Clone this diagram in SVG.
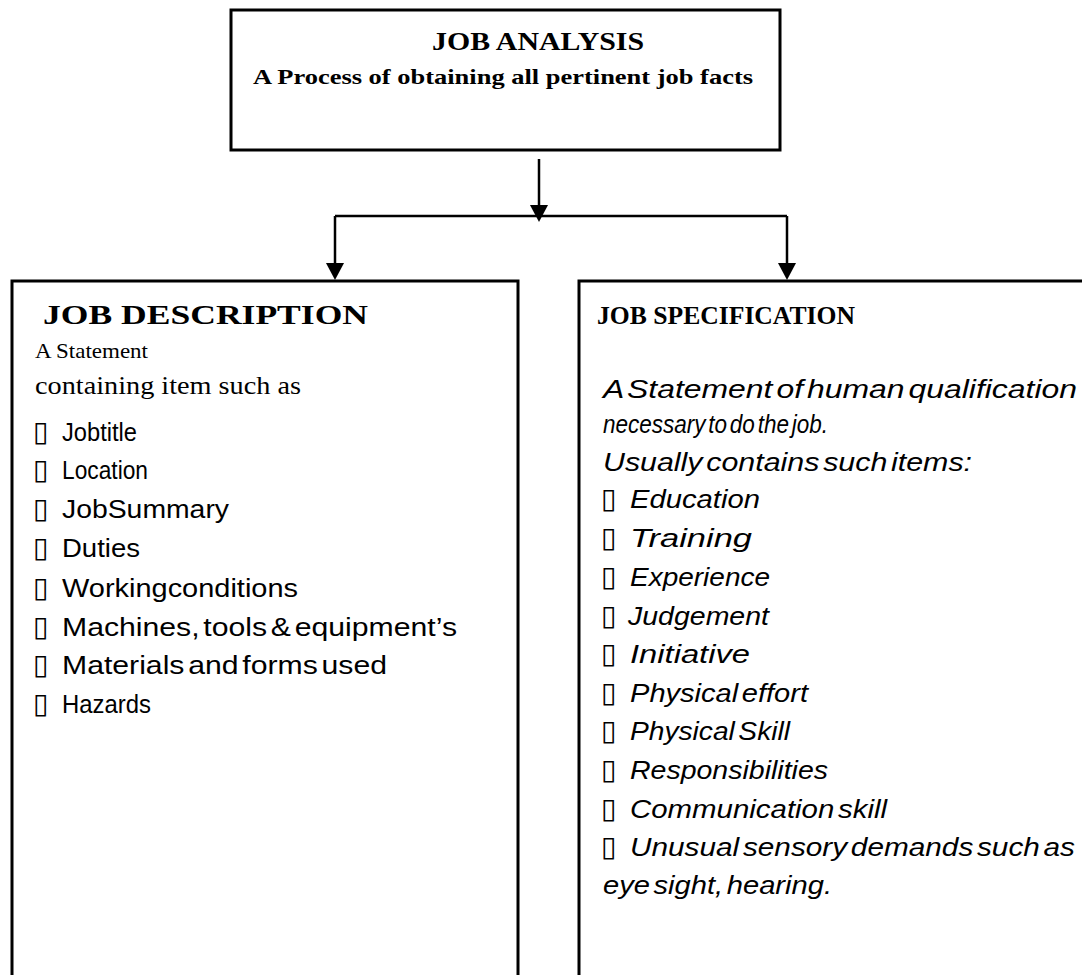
<svg xmlns="http://www.w3.org/2000/svg" width="1082" height="975" viewBox="0 0 1082 975">
  <defs>
    <style>
      .box { fill: #fff; stroke: #000; stroke-width: 3; }
      .wire { fill: none; stroke: #000; stroke-width: 2.5; }
      .head { fill: #000; }
      .serifb { font-family: "Liberation Serif", "DejaVu Serif", serif; font-weight: bold; fill: #000; }
      .serif { font-family: "Liberation Serif", "DejaVu Serif", serif; fill: #000; }
      .item { font-family: "Liberation Sans", "DejaVu Sans", sans-serif; font-size: 26px; word-spacing: -4px; fill: #000; }
      .itemi { font-family: "Liberation Sans", "DejaVu Sans", sans-serif; font-size: 26px; font-style: italic; word-spacing: -4px; fill: #000; }
      .mark { font-family: "DejaVu Sans", sans-serif; font-size: 28px; fill: #000; }
      .marki { font-family: "DejaVu Sans", sans-serif; font-size: 28px; font-style: italic; fill: #000; }
    </style>
  </defs>
  <rect width="1082" height="975" fill="#fff"/>

  <!-- Top node: job analysis -->
  <g id="job-analysis">
    <rect class="box" x="231" y="10" width="549" height="140"/>
    <text class="serifb" x="538" y="50" font-size="26" text-anchor="middle" textLength="212" lengthAdjust="spacingAndGlyphs">JOB ANALYSIS</text>
    <text class="serifb" x="253" y="84" font-size="22" textLength="500" lengthAdjust="spacingAndGlyphs">A Process of obtaining all pertinent job facts</text>
  </g>

  <!-- Connectors -->
  <g id="connectors">
    <path class="wire" d="M539,159 V210"/>
    <path class="wire" d="M335,216 H787"/>
    <path class="wire" d="M335,216 V270"/>
    <path class="wire" d="M787,216 V270"/>
    <path class="head" d="M530,205 L548,205 L539,222 Z"/>
    <path class="head" d="M326,263 L344,263 L335,280 Z"/>
    <path class="head" d="M778,263 L796,263 L787,280 Z"/>
  </g>

  <!-- Left node: job description -->
  <g id="job-description">
    <rect class="box" x="12" y="281" width="506" height="720"/>
    <text class="serifb" x="43" y="324" font-size="28" textLength="325" lengthAdjust="spacingAndGlyphs">JOB DESCRIPTION</text>
    <text class="serif" x="35" y="358" font-size="21" textLength="113" lengthAdjust="spacingAndGlyphs">A Statement</text>
    <text class="serif" x="35" y="394" font-size="25" textLength="266" lengthAdjust="spacingAndGlyphs">containing item such as</text>
    <g>
      <text class="mark" x="33" y="441">▯</text>
      <text class="item" x="62" y="441" textLength="75" lengthAdjust="spacingAndGlyphs">Jobtitle</text>
      <text class="mark" x="33" y="479">▯</text>
      <text class="item" x="62" y="479" textLength="86" lengthAdjust="spacingAndGlyphs">Location</text>
      <text class="mark" x="33" y="518">▯</text>
      <text class="item" x="62" y="518" textLength="167" lengthAdjust="spacingAndGlyphs">JobSummary</text>
      <text class="mark" x="33" y="557">▯</text>
      <text class="item" x="62" y="557" textLength="78" lengthAdjust="spacingAndGlyphs">Duties</text>
      <text class="mark" x="33" y="597">▯</text>
      <text class="item" x="62" y="597" textLength="236" lengthAdjust="spacingAndGlyphs">Workingconditions</text>
      <text class="mark" x="33" y="636">▯</text>
      <text class="item" x="62" y="636" textLength="395" lengthAdjust="spacingAndGlyphs">Machines, tools &amp; equipment’s</text>
      <text class="mark" x="33" y="674">▯</text>
      <text class="item" x="62" y="674" textLength="325" lengthAdjust="spacingAndGlyphs">Materials and forms used</text>
      <text class="mark" x="33" y="713">▯</text>
      <text class="item" x="62" y="713" textLength="89" lengthAdjust="spacingAndGlyphs">Hazards</text>
    </g>
  </g>

  <!-- Right node: job specification -->
  <g id="job-specification">
    <rect class="box" x="579" y="281" width="600" height="720"/>
    <text class="serifb" x="597" y="324" font-size="26" textLength="258" lengthAdjust="spacingAndGlyphs">JOB SPECIFICATION</text>
    <text class="itemi" x="603" y="398" textLength="474" lengthAdjust="spacingAndGlyphs">A Statement of human qualification</text>
    <text class="itemi" x="603" y="433" textLength="225" lengthAdjust="spacingAndGlyphs">necessary to do the job.</text>
    <text class="itemi" x="603" y="471" textLength="369" lengthAdjust="spacingAndGlyphs">Usually contains such items:</text>
    <g>
      <text class="marki" x="601" y="508">▯</text>
      <text class="itemi" x="630" y="508" textLength="130" lengthAdjust="spacingAndGlyphs">Education</text>
      <text class="marki" x="601" y="547">▯</text>
      <text class="itemi" x="630" y="547" textLength="122" lengthAdjust="spacingAndGlyphs">Training</text>
      <text class="marki" x="601" y="586">▯</text>
      <text class="itemi" x="630" y="586" textLength="140" lengthAdjust="spacingAndGlyphs">Experience</text>
      <text class="marki" x="601" y="625">▯</text>
      <text class="itemi" x="628" y="625" textLength="141" lengthAdjust="spacingAndGlyphs">Judgement</text>
      <text class="marki" x="601" y="663">▯</text>
      <text class="itemi" x="630" y="663" textLength="120" lengthAdjust="spacingAndGlyphs">Initiative</text>
      <text class="marki" x="601" y="702">▯</text>
      <text class="itemi" x="630" y="702" textLength="178" lengthAdjust="spacingAndGlyphs">Physical effort</text>
      <text class="marki" x="601" y="740">▯</text>
      <text class="itemi" x="630" y="740" textLength="160" lengthAdjust="spacingAndGlyphs">Physical Skill</text>
      <text class="marki" x="601" y="779">▯</text>
      <text class="itemi" x="630" y="779" textLength="198" lengthAdjust="spacingAndGlyphs">Responsibilities</text>
      <text class="marki" x="601" y="818">▯</text>
      <text class="itemi" x="630" y="818" textLength="257" lengthAdjust="spacingAndGlyphs">Communication skill</text>
      <text class="marki" x="601" y="856">▯</text>
      <text class="itemi" x="630" y="856" textLength="445" lengthAdjust="spacingAndGlyphs">Unusual sensory demands such as</text>
      <text class="itemi" x="603" y="894" textLength="229" lengthAdjust="spacingAndGlyphs">eye sight, hearing.</text>
    </g>
  </g>
</svg>
